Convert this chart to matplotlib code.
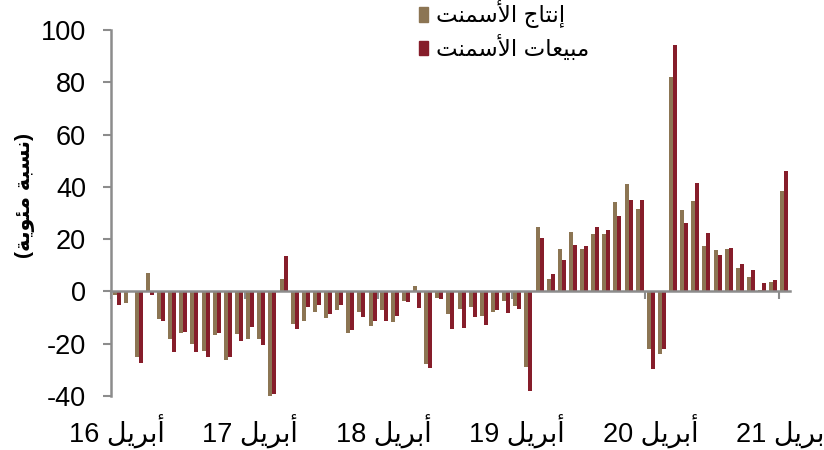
import re
import numpy as np
import matplotlib
matplotlib.use('Agg')
import matplotlib.pyplot as plt
from matplotlib.patches import Patch
from matplotlib.transforms import blended_transform_factory

plt.rcParams['font.family'] = ['Liberation Sans', 'DejaVu Sans']
plt.rcParams['axes.unicode_minus'] = False

#monthly growth, april 2016 .. april 2021 (percent)
production = [-1.3, -4.6, -25.0, 6.9, -10.4, -18.1, -15.9, -20.1, -22.8, -16.8, -26.1, -16.3,
              -18.2, -18.3, -40.9, 4.9, -12.6, -11.4, -7.8, -10.3, -7.2, -15.8, -7.9, -13.1,
              -7.2, -11.8, -3.7, 2.0, -27.8, -2.6, -8.7, -6.8, -5.8, -9.5, -7.9, -3.7,
              -5.5, -29.0, 24.5, 4.9, 16.3, 22.9, 16.3, 21.9, 21.9, 34.1, 41.0, 31.4,
              -22.2, -24.1, 82.0, 31.2, 34.6, 17.2, 15.9, 16.4, 8.8, 5.5, 0.5, 3.7,
              38.5]
sales = [-5.1, 0.0, -27.2, -1.4, -11.2, -23.1, -15.6, -23.2, -25.2, -15.8, -25.2, -18.9,
         -13.5, -20.3, -39.3, 13.7, -14.5, -5.8, -5.1, -8.5, -5.1, -14.9, -9.9, -11.2,
         -11.4, -9.5, -4.1, -6.4, -29.2, -2.9, -14.4, -14.0, -9.9, -12.7, -7.0, -8.1,
         -6.8, -38.1, 20.6, 6.7, 12.2, 17.6, 17.4, 24.7, 23.6, 28.8, 35.1, 35.1,
         -29.7, -22.2, 94.2, 26.3, 41.3, 22.4, 14.1, 16.5, 10.4, 8.1, 3.3, 4.2,
         45.9]
year_labels = ['أبريل 16', 'أبريل 17', 'أبريل 18', 'أبريل 19', 'أبريل 20', 'أبريل 21']
series_names = ['إنتاج الأسمنت', 'مبيعات الأسمنت']
ylabel = '(نسبة مئوية)'
yticks = [-40, -20, 0, 20, 40, 60, 80, 100]

#arabic shaping by hand: isolated, final, initial, medial
FORMS = {
    '\u0627': (0xFE8D, 0xFE8E, None, None),
    '\u0623': (0xFE83, 0xFE84, None, None),
    '\u0625': (0xFE87, 0xFE88, None, None),
    '\u0628': (0xFE8F, 0xFE90, 0xFE91, 0xFE92),
    '\u062A': (0xFE95, 0xFE96, 0xFE97, 0xFE98),
    '\u0629': (0xFE93, 0xFE94, None, None),
    '\u062C': (0xFE9D, 0xFE9E, 0xFE9F, 0xFEA0),
    '\u0631': (0xFEAD, 0xFEAE, None, None),
    '\u0633': (0xFEB1, 0xFEB2, 0xFEB3, 0xFEB4),
    '\u0639': (0xFEC9, 0xFECA, 0xFECB, 0xFECC),
    '\u0644': (0xFEDD, 0xFEDE, 0xFEDF, 0xFEE0),
    '\u0645': (0xFEE1, 0xFEE2, 0xFEE3, 0xFEE4),
    '\u0646': (0xFEE5, 0xFEE6, 0xFEE7, 0xFEE8),
    '\u064A': (0xFEF1, 0xFEF2, 0xFEF3, 0xFEF4),
    '\u0626': (0xFE89, 0xFE8A, 0xFE8B, 0xFE8C),
    '\u0648': (0xFEED, 0xFEEE, None, None),
}
LAM_ALEF = {'\u0627': (0xFEFB, 0xFEFC), '\u0623': (0xFEF7, 0xFEF8), '\u0625': (0xFEF9, 0xFEFA)}

def joins_next(c):
    return c in FORMS and FORMS[c][2] is not None

def shape(text):
    out = []
    i = 0
    while i < len(text):
        c = text[i]
        if c not in FORMS:
            out.append(c)
            i += 1
            continue
        prev = text[i-1] if i > 0 else ''
        nxt = text[i+1] if i+1 < len(text) else ''
        pj = joins_next(prev)
        if c == '\u0644' and nxt in LAM_ALEF:
            out.append(chr(LAM_ALEF[nxt][1 if pj else 0]))
            i += 2
            continue
        nj = joins_next(c) and nxt in FORMS
        f = FORMS[c]
        if pj and nj:
            out.append(chr(f[3]))
        elif pj:
            out.append(chr(f[1]))
        elif nj:
            out.append(chr(f[2]))
        else:
            out.append(chr(f[0]))
        i += 1
    return ''.join(out)

def ar(text):
    vis = shape(text)[::-1]
    vis = re.sub(r'[0-9]+', lambda m: m.group(0)[::-1], vis)
    return vis.translate(str.maketrans('()', ')('))

tan = '#8c7553'
red = '#861d2a'
grey = '#8c8c8c'

fig = plt.figure(figsize=(8.24, 4.5), dpi=100)
ax = fig.add_axes([0.1347, 0.12, 0.824, 0.8133])

x = np.arange(len(production))
w = 0.36
ax.bar(x - w/2, production, w, color=tan, zorder=2)
ax.bar(x + w/2, sales, w, color=red, zorder=2)

ax.set_xlim(-0.5, len(production) - 0.5)
ax.set_ylim(-40, 100)

for s in ['top', 'right']:
    ax.spines[s].set_visible(False)
ax.spines['bottom'].set_position(('data', 0))
ax.spines['bottom'].set_color(grey)
ax.spines['bottom'].set_linewidth(1.8)
ax.spines['bottom'].set_zorder(3)
ax.spines['left'].set_color(grey)
ax.spines['left'].set_linewidth(1.8)

ax.set_yticks(yticks)
ax.tick_params(axis='y', direction='out', length=6, width=1.5, color=grey, labelsize=19.5, pad=12)
ax.set_xticks(np.arange(-0.5, len(production), 12))
ax.tick_params(axis='x', direction='out', length=6, width=1.5, color=grey, labelbottom=False)

#year labels under the plot
trans = blended_transform_factory(ax.transData, ax.transAxes)
for k, lab in enumerate(year_labels):
    ax.text(k*12, -0.098, ar(lab), transform=trans, ha='center', va='center', fontsize=19.5)

fig.text(0.03, 0.565, ar(ylabel), rotation=90, ha='center', va='center',
         fontsize=15, fontweight='bold')

handles = [Patch(color=tan), Patch(color=red)]
fig.legend(handles, [ar(n) for n in series_names], loc='upper left',
           bbox_to_anchor=(0.483, 1.045), frameon=False, fontsize=16.5,
           handlelength=0.4, handleheight=0.6, handletextpad=0.35, labelspacing=0.3)

fig.savefig('out.png', dpi=100)
